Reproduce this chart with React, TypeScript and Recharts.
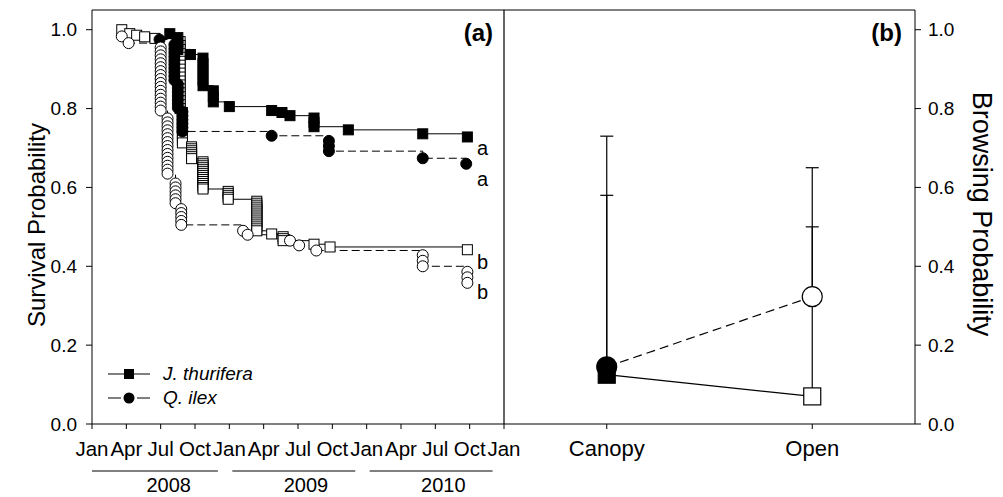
import React from 'react';
import { ComposedChart, Line, XAxis, YAxis, ErrorBar } from 'recharts';

const FONT = '"Liberation Sans", Arial, Helvetica, sans-serif';

// ---------- panel (a): time axis (months since Jan 2008) ----------
const monthTicks = [0, 3, 6, 9, 12, 15, 18, 21, 24, 27, 30, 33, 36];
const monthLabels = ['Jan', 'Apr', 'Jul', 'Oct', 'Jan', 'Apr', 'Jul', 'Oct', 'Jan', 'Apr', 'Jul', 'Oct', 'Jan'];
const yearLabels = ['2008', '2009', '2010'];
const probTicks = [0, 0.2, 0.4, 0.6, 0.8, 1.0];

// J. thurifera – canopy (filled squares, solid)
const jtCanopy: [number, number][] = [
  [6.8, 0.99], [7.5, 0.98], [7.5, 0.97], [7.5, 0.96], [7.5, 0.95], [8.6, 0.937],
  [9.7, 0.928], [9.7, 0.914], [9.7, 0.9], [9.7, 0.886], [9.7, 0.872], [9.7, 0.858],
  [10.6, 0.845], [10.6, 0.83], [10.6, 0.817], [12.0, 0.805], [15.7, 0.795], [16.6, 0.79],
  [17.3, 0.782], [19.4, 0.776], [19.4, 0.765], [19.4, 0.754], [22.4, 0.746], [28.9, 0.736],
  [32.8, 0.728],
];

// Q. ilex – canopy (filled circles, dashed)
const qiCanopy: [number, number][] = [
  [5.9, 0.975], [7.2, 0.962], [7.2, 0.952], [7.2, 0.942], [7.2, 0.932], [7.2, 0.922],
  [7.2, 0.912], [7.2, 0.902], [7.2, 0.892], [7.2, 0.882], [7.2, 0.872], [7.5, 0.862],
  [7.5, 0.852], [7.5, 0.842], [7.5, 0.832], [7.5, 0.822], [7.5, 0.812], [7.5, 0.802],
  [7.9, 0.792], [7.9, 0.782], [7.9, 0.772], [7.9, 0.762], [7.9, 0.752], [7.9, 0.742],
  [15.7, 0.731], [20.7, 0.718], [20.7, 0.705], [20.7, 0.692], [28.9, 0.674], [32.7, 0.66],
];

// J. thurifera – open (open squares, solid)
const jtOpen: [number, number][] = [
  [2.6, 1.0], [3.3, 0.99], [3.9, 0.986], [4.6, 0.982], [5.5, 0.978],
  [7.7, 0.97], [7.7, 0.96], [7.7, 0.95], [7.7, 0.94], [7.7, 0.93], [7.7, 0.92], [7.7, 0.91],
  [7.7, 0.9], [7.7, 0.89], [7.7, 0.88], [7.7, 0.87], [7.7, 0.86], [7.7, 0.85], [7.7, 0.84],
  [7.7, 0.83], [7.7, 0.82], [7.7, 0.81], [7.7, 0.8],
  [7.9, 0.79], [7.9, 0.78], [7.9, 0.77], [7.9, 0.76], [7.9, 0.75], [7.9, 0.74], [7.9, 0.73],
  [7.9, 0.72], [7.9, 0.713],
  [8.7, 0.703], [8.7, 0.698], [8.7, 0.693], [8.7, 0.688], [8.7, 0.683], [8.7, 0.678], [8.7, 0.673],
  [9.7, 0.665], [9.7, 0.66], [9.7, 0.655], [9.7, 0.65], [9.7, 0.645], [9.7, 0.64], [9.7, 0.635],
  [9.7, 0.63], [9.7, 0.625], [9.7, 0.62], [9.7, 0.615], [9.7, 0.61], [9.7, 0.605], [9.7, 0.6],
  [9.7, 0.596],
  [11.9, 0.59], [11.9, 0.585], [11.9, 0.58], [11.9, 0.575], [11.9, 0.57],
  [14.4, 0.565], [14.4, 0.56], [14.4, 0.555], [14.4, 0.55], [14.4, 0.545], [14.4, 0.54],
  [14.4, 0.535], [14.4, 0.53], [14.4, 0.525], [14.4, 0.52], [14.4, 0.515], [14.4, 0.51],
  [14.4, 0.505], [14.4, 0.5], [14.4, 0.495], [14.4, 0.49],
  [15.7, 0.482], [16.7, 0.475], [16.7, 0.47], [16.7, 0.465], [19.4, 0.456], [20.8, 0.449],
  [32.8, 0.442],
];

// Q. ilex – open (open circles, dashed)
const qiOpen: [number, number][] = [
  [2.6, 0.983], [3.2, 0.966],
  [6.0, 0.955], [6.0, 0.945], [6.0, 0.935], [6.0, 0.925], [6.0, 0.915], [6.0, 0.905],
  [6.0, 0.895], [6.0, 0.885], [6.0, 0.875], [6.0, 0.865], [6.0, 0.855], [6.0, 0.845],
  [6.0, 0.835], [6.0, 0.825], [6.0, 0.815], [6.0, 0.805], [6.0, 0.795],
  [6.6, 0.775], [6.6, 0.765], [6.6, 0.755], [6.6, 0.745], [6.6, 0.735], [6.6, 0.725],
  [6.6, 0.715], [6.6, 0.705], [6.6, 0.695], [6.6, 0.685], [6.6, 0.675], [6.6, 0.665],
  [6.6, 0.655], [6.6, 0.645], [6.6, 0.635],
  [7.3, 0.61], [7.3, 0.6], [7.3, 0.59], [7.3, 0.58], [7.3, 0.57], [7.3, 0.56],
  [7.8, 0.545], [7.8, 0.535], [7.8, 0.525], [7.8, 0.515], [7.8, 0.505],
  [13.2, 0.49], [13.6, 0.48], [17.3, 0.465], [18.1, 0.453], [19.6, 0.44],
  [28.9, 0.428], [28.9, 0.414], [28.9, 0.4], [32.8, 0.386], [32.8, 0.372], [32.8, 0.358],
];

// significance letters at curve ends
const groupLetters = ['a', 'a', 'b', 'b'];
const groupLetterValues = [0.7, 0.622, 0.41, 0.335];

// ---------- panel (b): browsing probability ----------
const habitats = ['Canopy', 'Open'];
const jtBrowse = [0.125, 0.07];
const jtBrowseUpper = [0.58, 0.5];
const qiBrowse = [0.145, 0.323];
const qiBrowseUpper = [0.73, 0.65];

const toRows = (pts: [number, number][]) => pts.map(([m, s]) => ({ m, s }));

const makeDot = (shape: 'square' | 'circle', fill: string, size: number) => (props: any) => {
  const { cx, cy, index } = props;
  if (cx == null || cy == null || isNaN(cx) || isNaN(cy)) return <g key={`n${index}`} />;
  if (shape === 'square') {
    return (
      <rect key={`d${index}`} x={cx - size / 2} y={cy - size / 2} width={size} height={size}
        fill={fill} stroke="#000" strokeWidth={1} />
    );
  }
  return <circle key={`d${index}`} cx={cx} cy={cy} r={size / 2} fill={fill} stroke="#000" strokeWidth={1} />;
};

const browseDot = (shape: 'square' | 'circle') => (props: any) => {
  const { cx, cy, index } = props;
  const fill = index === 0 ? '#000' : '#fff';
  if (cx == null || cy == null) return <g key={`n${index}`} />;
  if (shape === 'square') {
    return <rect key={`b${index}`} x={cx - 8.5} y={cy - 8.5} width={17} height={17} fill={fill} stroke="#000" strokeWidth={1.2} />;
  }
  return <circle key={`b${index}`} cx={cx} cy={cy} r={10} fill={fill} stroke="#000" strokeWidth={1.2} />;
};

const PLOT_TOP = 10;
const PLOT_BOTTOM = 424;
const LEFT_X0 = 92;
const DIVIDER_X = 504;
const RIGHT_X1 = 915;
const Y_MAX = 1.05;
const yPix = (v: number) => PLOT_BOTTOM - (v / Y_MAX) * (PLOT_BOTTOM - PLOT_TOP);
const mPix = (m: number) => LEFT_X0 + (m / 36) * (DIVIDER_X - LEFT_X0);

const tickStyle = { fontSize: 20.5, fill: '#000', fontFamily: FONT };

export default function App() {
  const jtBrowseRows = habitats.map((h, i) => ({ x: i, p: jtBrowse[i], err: [0, jtBrowseUpper[i] - jtBrowse[i]] }));
  const qiBrowseRows = habitats.map((h, i) => ({ x: i, p: qiBrowse[i], err: [0, qiBrowseUpper[i] - qiBrowse[i]] }));

  return (
    <div style={{ position: 'absolute', left: 0, top: 0, width: 1003, height: 497, background: '#fff', fontFamily: FONT }}>
      <div style={{ position: 'absolute', left: 0, top: 0 }}>
        <ComposedChart width={520} height={497} margin={{ top: PLOT_TOP, right: 16, bottom: 43, left: 32 }}>
          <XAxis type="number" dataKey="m" domain={[0, 36]} ticks={monthTicks} interval={0}
            tickFormatter={(v: number) => monthLabels[monthTicks.indexOf(v)]}
            stroke="#000" tickSize={5} tickMargin={12} height={30} tick={tickStyle} allowDataOverflow />
          <YAxis type="number" domain={[0, Y_MAX]} ticks={probTicks} interval={0}
            tickFormatter={(v: number) => v.toFixed(1)} stroke="#000" tickSize={6} tickMargin={9}
            width={60} tick={{ ...tickStyle, fontSize: 19 }} allowDataOverflow />
          <Line data={toRows(jtOpen)} dataKey="s" type="stepAfter" stroke="#000" strokeWidth={1}
            dot={makeDot('square', '#fff', 10)} activeDot={false} isAnimationActive={false} />
          <Line data={toRows(qiCanopy)} dataKey="s" type="stepAfter" stroke="#000" strokeWidth={1}
            strokeDasharray="8 4" dot={makeDot('circle', '#000', 11)} activeDot={false} isAnimationActive={false} />
          <Line data={toRows(jtCanopy)} dataKey="s" type="stepAfter" stroke="#000" strokeWidth={1}
            dot={makeDot('square', '#000', 10)} activeDot={false} isAnimationActive={false} />
          <Line data={toRows(qiOpen)} dataKey="s" type="stepAfter" stroke="#000" strokeWidth={1}
            strokeDasharray="8 4" dot={makeDot('circle', '#fff', 11)} activeDot={false} isAnimationActive={false} />
        </ComposedChart>
      </div>

      <div style={{ position: 'absolute', left: DIVIDER_X, top: 0 }}>
        <ComposedChart width={499} height={497} margin={{ top: PLOT_TOP, right: 28, bottom: 43, left: 0 }}>
          <XAxis type="number" dataKey="x" domain={[-0.5, 1.5]} ticks={[0, 1]} interval={0}
            tickFormatter={(v: number) => habitats[v]} stroke="#000" tickSize={5} tickMargin={11}
            height={30} tick={{ ...tickStyle, fontSize: 22 }} allowDataOverflow />
          <YAxis type="number" orientation="right" domain={[0, Y_MAX]} ticks={probTicks} interval={0}
            tickFormatter={(v: number) => v.toFixed(1)} stroke="#000" tickSize={6} tickMargin={7}
            width={60} tick={{ ...tickStyle, fontSize: 19 }} allowDataOverflow />
          <Line data={jtBrowseRows} dataKey="p" type="linear" stroke="#000" strokeWidth={1.2}
            dot={false} activeDot={false} isAnimationActive={false}>
            <ErrorBar dataKey="err" width={6.5} stroke="#000" strokeWidth={1.2} direction="y" zIndex={350} />
          </Line>
          <Line data={qiBrowseRows} dataKey="p" type="linear" stroke="#000" strokeWidth={1.2}
            strokeDasharray="9 5" dot={false} activeDot={false} isAnimationActive={false}>
            <ErrorBar dataKey="err" width={6.5} stroke="#000" strokeWidth={1.2} direction="y" zIndex={350} />
          </Line>
          <Line data={jtBrowseRows} dataKey="p" type="linear" stroke="none" zIndex={1200}
            dot={browseDot('square')} activeDot={false} isAnimationActive={false} />
          <Line data={qiBrowseRows} dataKey="p" type="linear" stroke="none" zIndex={1201}
            dot={browseDot('circle')} activeDot={false} isAnimationActive={false} />
        </ComposedChart>
      </div>

      <svg width={1003} height={497} style={{ position: 'absolute', left: 0, top: 0, pointerEvents: 'none' }}>
        {/* frame */}
        <line x1={LEFT_X0} y1={PLOT_TOP} x2={RIGHT_X1} y2={PLOT_TOP} stroke="#000" strokeWidth={1.2} />
        <line x1={DIVIDER_X} y1={PLOT_TOP} x2={DIVIDER_X} y2={PLOT_BOTTOM} stroke="#000" strokeWidth={1.2} />

        {/* panel letters */}
        <text x={493} y={41} textAnchor="end" fontSize={24} fontWeight="bold" fontFamily={FONT}>(a)</text>
        <text x={902} y={41} textAnchor="end" fontSize={24} fontWeight="bold" fontFamily={FONT}>(b)</text>

        {/* years */}
        {yearLabels.map((y, i) => {
          const x1 = mPix(i * 12) + (i === 0 ? 0 : 3);
          const x2 = mPix(i * 12 + 11);
          return (
            <g key={y}>
              <line x1={x1} y1={471} x2={x2} y2={471} stroke="#000" strokeWidth={1} />
              <text x={mPix(i * 12 + 6) + 8} y={492} textAnchor="middle" fontSize={20} fontFamily={FONT}>{y}</text>
            </g>
          );
        })}

        {/* significance letters */}
        {groupLetters.map((l, i) => (
          <text key={i} x={477} y={yPix(groupLetterValues[i]) + 7} fontSize={20} fontFamily={FONT}>{l}</text>
        ))}

        {/* axis titles */}
        <text transform="translate(36,225) rotate(-90)" textAnchor="middle" dominantBaseline="central"
          fontSize={24} fontFamily={FONT}>Survival Probability</text>
        <text transform="translate(982,214) rotate(90)" textAnchor="middle" dominantBaseline="central"
          fontSize={27} fontFamily={FONT}>Browsing Probability</text>

        {/* legend */}
        <line x1={108} y1={374} x2={150} y2={374} stroke="#000" strokeWidth={1} />
        <rect x={124} y={369} width={10} height={10} fill="#000" />
        <text x={163} y={380} fontSize={19} fontStyle="italic" fontFamily={FONT}>J. thurifera</text>
        <line x1={108} y1={398} x2={121} y2={398} stroke="#000" strokeWidth={1} />
        <line x1={137} y1={398} x2={150} y2={398} stroke="#000" strokeWidth={1} />
        <circle cx={129} cy={398} r={5.5} fill="#000" />
        <text x={163} y={404} fontSize={19} fontStyle="italic" fontFamily={FONT}>Q. ilex</text>
      </svg>
    </div>
  );
}
